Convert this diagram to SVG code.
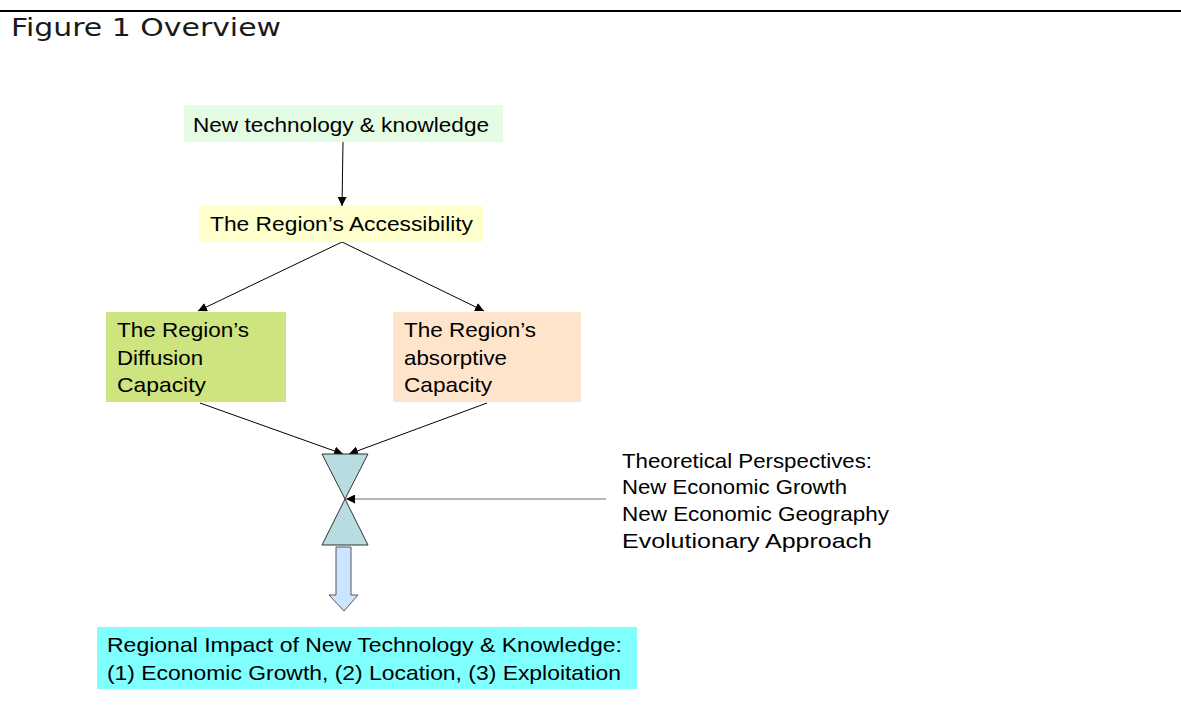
<svg xmlns="http://www.w3.org/2000/svg" width="1181" height="713" viewBox="0 0 1181 713">
  <style>
    .lbl { font-family: "Liberation Sans", Arial, sans-serif; font-size: 21px; fill: #000; }
    .title { font-family: "DejaVu Sans", Verdana, sans-serif; font-size: 24px; fill: #1a1a1a; }
    .edge { stroke: #000; stroke-width: 1; fill: none; marker-end: url(#arrow); }
    .edge-grey { stroke: #6e6e6e; stroke-width: 1.2; fill: none; marker-end: url(#arrow); }
    .hour { fill: #b7dde0; stroke: #333; stroke-width: 1; }
  </style>
  <defs>
    <marker id="arrow" viewBox="0 0 10 10" refX="10" refY="5" markerWidth="9" markerHeight="9" markerUnits="userSpaceOnUse" orient="auto">
      <path d="M0,0 L10,5 L0,10 z" fill="#000"/>
    </marker>
  </defs>

  <rect width="1181" height="713" fill="#fff"/>

  <!-- header rule and caption -->
  <line x1="0" y1="11" x2="1181" y2="11" stroke="#000" stroke-width="2.2"/>
  <text class="title" x="11" y="36" textLength="270" lengthAdjust="spacingAndGlyphs">Figure 1 Overview</text>

  <!-- connectors -->
  <g id="connectors">
    <line class="edge" x1="343" y1="142" x2="342" y2="206"/>
    <line class="edge" x1="342" y1="242" x2="198" y2="311"/>
    <line class="edge" x1="342" y1="242" x2="484" y2="311"/>
    <line class="edge" x1="200" y1="403" x2="343" y2="454"/>
    <line class="edge" x1="487" y1="403" x2="349" y2="454"/>
    <line class="edge-grey" x1="606" y1="499" x2="346" y2="499"/>
  </g>

  <g id="node-new-tech">
    <rect x="184" y="105" width="319" height="37" fill="#e4fbe4"/>
    <text class="lbl" x="193" y="132" textLength="296" lengthAdjust="spacingAndGlyphs">New technology &amp; knowledge</text>
  </g>

  <g id="node-accessibility">
    <rect x="199" y="206" width="284" height="36" fill="#ffffcc"/>
    <text class="lbl" x="210" y="231" textLength="263" lengthAdjust="spacingAndGlyphs">The Region’s Accessibility</text>
  </g>

  <g id="node-diffusion">
    <rect x="106" y="312" width="180" height="90" fill="#cde47f"/>
    <text class="lbl" x="117" y="337" textLength="132" lengthAdjust="spacingAndGlyphs">The Region’s</text>
    <text class="lbl" x="117" y="365" textLength="86" lengthAdjust="spacingAndGlyphs">Diffusion</text>
    <text class="lbl" x="117" y="392" textLength="89" lengthAdjust="spacingAndGlyphs">Capacity</text>
  </g>

  <g id="node-absorptive">
    <rect x="393" y="312" width="188" height="90" fill="#ffe4cc"/>
    <text class="lbl" x="404" y="337" textLength="132" lengthAdjust="spacingAndGlyphs">The Region’s</text>
    <text class="lbl" x="404" y="365" textLength="103" lengthAdjust="spacingAndGlyphs">absorptive</text>
    <text class="lbl" x="404" y="392" textLength="88" lengthAdjust="spacingAndGlyphs">Capacity</text>
  </g>

  <g id="node-hourglass">
    <polygon class="hour" points="322,454 368,454 345,499"/>
    <polygon class="hour" points="345,499 368,545 322,545"/>
  </g>

  <g id="node-down-arrow">
    <polygon points="336,547 351,547 351,595 358,595 344,611 329,595 336,595" fill="#cce5ff" stroke="#555" stroke-width="1"/>
  </g>

  <g id="node-perspectives">
    <text class="lbl" x="622" y="468" textLength="250" lengthAdjust="spacingAndGlyphs">Theoretical Perspectives:</text>
    <text class="lbl" x="622" y="494" textLength="225" lengthAdjust="spacingAndGlyphs">New Economic Growth</text>
    <text class="lbl" x="622" y="521" textLength="267" lengthAdjust="spacingAndGlyphs">New Economic Geography</text>
    <text class="lbl" x="622" y="548" textLength="250" lengthAdjust="spacingAndGlyphs">Evolutionary Approach</text>
  </g>

  <g id="node-impact">
    <rect x="97" y="627" width="540" height="62" fill="#80ffff"/>
    <text class="lbl" x="107" y="652" textLength="515" lengthAdjust="spacingAndGlyphs">Regional Impact of New Technology &amp; Knowledge:</text>
    <text class="lbl" x="107" y="680" textLength="514" lengthAdjust="spacingAndGlyphs">(1) Economic Growth, (2) Location, (3) Exploitation</text>
  </g>
</svg>
